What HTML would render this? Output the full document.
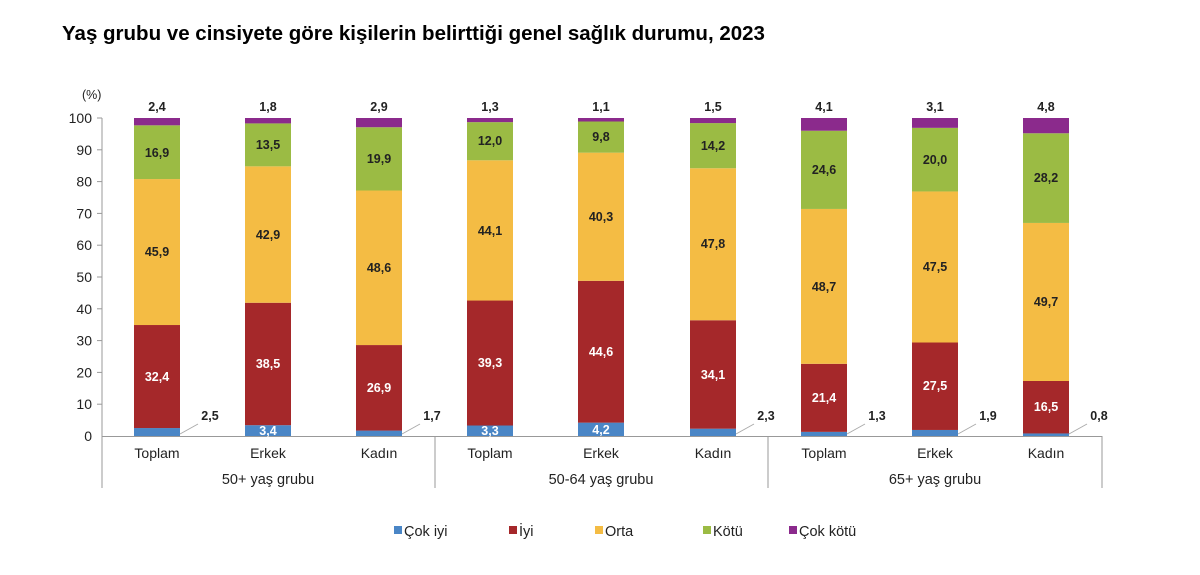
<!DOCTYPE html>
<html><head><meta charset="utf-8"><style>
body{margin:0;background:#fff;}
svg{display:block;font-family:"Liberation Sans",Arial,sans-serif;}
.t{font-size:12.5px;font-weight:bold;fill:#222;text-anchor:middle}
.w{font-size:12.5px;font-weight:bold;fill:#fff;text-anchor:middle}
.y{font-size:14px;fill:#222;text-anchor:end}
.c{font-size:14px;fill:#222;text-anchor:middle}
.g{font-size:14.5px;fill:#222;text-anchor:middle}
.l{font-size:14.5px;fill:#222}
</style></head><body>
<svg width="1200" height="575" viewBox="0 0 1200 575">
<text x="62" y="40" style="font-size:20.5px;font-weight:bold;fill:#000">Yaş grubu ve cinsiyete göre kişilerin belirttiği genel sağlık durumu, 2023</text>
<text x="82" y="99" style="font-size:12.5px;fill:#222">(%)</text>
<g stroke="#999" stroke-width="1">
<line x1="102" y1="118" x2="102" y2="488"/>
<line x1="102" y1="436.5" x2="1102" y2="436.5"/>
<line x1="435" y1="436" x2="435" y2="488"/>
<line x1="768" y1="436" x2="768" y2="488"/>
<line x1="1102" y1="436" x2="1102" y2="488"/>
<line x1="97" y1="118" x2="102" y2="118"/><line x1="97" y1="149.8" x2="102" y2="149.8"/><line x1="97" y1="181.6" x2="102" y2="181.6"/><line x1="97" y1="213.4" x2="102" y2="213.4"/><line x1="97" y1="245.2" x2="102" y2="245.2"/><line x1="97" y1="277" x2="102" y2="277"/><line x1="97" y1="308.8" x2="102" y2="308.8"/><line x1="97" y1="340.6" x2="102" y2="340.6"/><line x1="97" y1="372.4" x2="102" y2="372.4"/><line x1="97" y1="404.2" x2="102" y2="404.2"/>
</g>
<g>
<text x="92" y="123" class="y">100</text><text x="92" y="154.8" class="y">90</text><text x="92" y="186.6" class="y">80</text><text x="92" y="218.4" class="y">70</text><text x="92" y="250.2" class="y">60</text><text x="92" y="282" class="y">50</text><text x="92" y="313.8" class="y">40</text><text x="92" y="345.6" class="y">30</text><text x="92" y="377.4" class="y">20</text><text x="92" y="409.2" class="y">10</text><text x="92" y="441" class="y">0</text>
</g>
<g transform="translate(0,436) scale(1,-3.18)">
<rect x="134" y="0" width="46" height="2.5" fill="#4a86c6"/><rect x="134" y="2.5" width="46" height="32.4" fill="#a5282a"/><rect x="134" y="34.9" width="46" height="45.9" fill="#f4bc44"/><rect x="134" y="80.8" width="46" height="16.9" fill="#9bbb44"/><rect x="134" y="97.7" width="46" height="2.3" fill="#8b2a8c"/>
<rect x="245" y="0" width="46" height="3.4" fill="#4a86c6"/><rect x="245" y="3.4" width="46" height="38.5" fill="#a5282a"/><rect x="245" y="41.9" width="46" height="42.9" fill="#f4bc44"/><rect x="245" y="84.8" width="46" height="13.5" fill="#9bbb44"/><rect x="245" y="98.3" width="46" height="1.7" fill="#8b2a8c"/>
<rect x="356" y="0" width="46" height="1.7" fill="#4a86c6"/><rect x="356" y="1.7" width="46" height="26.9" fill="#a5282a"/><rect x="356" y="28.6" width="46" height="48.6" fill="#f4bc44"/><rect x="356" y="77.2" width="46" height="19.9" fill="#9bbb44"/><rect x="356" y="97.1" width="46" height="2.9" fill="#8b2a8c"/>
<rect x="467" y="0" width="46" height="3.3" fill="#4a86c6"/><rect x="467" y="3.3" width="46" height="39.3" fill="#a5282a"/><rect x="467" y="42.6" width="46" height="44.1" fill="#f4bc44"/><rect x="467" y="86.7" width="46" height="12" fill="#9bbb44"/><rect x="467" y="98.7" width="46" height="1.3" fill="#8b2a8c"/>
<rect x="578" y="0" width="46" height="4.2" fill="#4a86c6"/><rect x="578" y="4.2" width="46" height="44.6" fill="#a5282a"/><rect x="578" y="48.8" width="46" height="40.3" fill="#f4bc44"/><rect x="578" y="89.1" width="46" height="9.8" fill="#9bbb44"/><rect x="578" y="98.9" width="46" height="1.1" fill="#8b2a8c"/>
<rect x="690" y="0" width="46" height="2.3" fill="#4a86c6"/><rect x="690" y="2.3" width="46" height="34.1" fill="#a5282a"/><rect x="690" y="36.4" width="46" height="47.8" fill="#f4bc44"/><rect x="690" y="84.2" width="46" height="14.2" fill="#9bbb44"/><rect x="690" y="98.4" width="46" height="1.6" fill="#8b2a8c"/>
<rect x="801" y="0" width="46" height="1.3" fill="#4a86c6"/><rect x="801" y="1.3" width="46" height="21.4" fill="#a5282a"/><rect x="801" y="22.7" width="46" height="48.7" fill="#f4bc44"/><rect x="801" y="71.4" width="46" height="24.6" fill="#9bbb44"/><rect x="801" y="96" width="46" height="4" fill="#8b2a8c"/>
<rect x="912" y="0" width="46" height="1.9" fill="#4a86c6"/><rect x="912" y="1.9" width="46" height="27.5" fill="#a5282a"/><rect x="912" y="29.4" width="46" height="47.5" fill="#f4bc44"/><rect x="912" y="76.9" width="46" height="20" fill="#9bbb44"/><rect x="912" y="96.9" width="46" height="3.1" fill="#8b2a8c"/>
<rect x="1023" y="0" width="46" height="0.8" fill="#4a86c6"/><rect x="1023" y="0.8" width="46" height="16.5" fill="#a5282a"/><rect x="1023" y="17.3" width="46" height="49.7" fill="#f4bc44"/><rect x="1023" y="67" width="46" height="28.2" fill="#9bbb44"/><rect x="1023" y="95.2" width="46" height="4.8" fill="#8b2a8c"/>
</g>
<g stroke="#aaa" stroke-width="1">
<line x1="180" y1="434" x2="198" y2="424"/><line x1="402" y1="434" x2="420" y2="424"/><line x1="736" y1="434" x2="754" y2="424"/><line x1="847" y1="434" x2="865" y2="424"/><line x1="958" y1="434" x2="976" y2="424"/><line x1="1069" y1="434" x2="1087" y2="424"/>
</g>
<text class="t" x="210" y="420">2,5</text><text class="t" x="432" y="420">1,7</text><text class="t" x="766" y="420">2,3</text><text class="t" x="877" y="420">1,3</text><text class="t" x="988" y="420">1,9</text><text class="t" x="1099" y="420">0,8</text>
<text class="w" x="268" y="435">3,4</text><text class="w" x="490" y="435">3,3</text><text class="w" x="601" y="434">4,2</text>
<text class="w" x="157" y="381">32,4</text><text class="w" x="268" y="368">38,5</text><text class="w" x="379" y="392">26,9</text><text class="w" x="490" y="367">39,3</text><text class="w" x="601" y="356">44,6</text><text class="w" x="713" y="379">34,1</text><text class="w" x="824" y="402">21,4</text><text class="w" x="935" y="390">27,5</text><text class="w" x="1046" y="411">16,5</text>
<text class="t" x="157" y="256">45,9</text><text class="t" x="268" y="239">42,9</text><text class="t" x="379" y="272">48,6</text><text class="t" x="490" y="235">44,1</text><text class="t" x="601" y="221">40,3</text><text class="t" x="713" y="248">47,8</text><text class="t" x="824" y="291">48,7</text><text class="t" x="935" y="271">47,5</text><text class="t" x="1046" y="306">49,7</text>
<text class="t" x="157" y="157">16,9</text><text class="t" x="268" y="149">13,5</text><text class="t" x="379" y="163">19,9</text><text class="t" x="490" y="145">12,0</text><text class="t" x="601" y="141">9,8</text><text class="t" x="713" y="150">14,2</text><text class="t" x="824" y="174">24,6</text><text class="t" x="935" y="164">20,0</text><text class="t" x="1046" y="182">28,2</text>
<text class="t" x="157" y="111">2,4</text><text class="t" x="268" y="111">1,8</text><text class="t" x="379" y="111">2,9</text><text class="t" x="490" y="111">1,3</text><text class="t" x="601" y="111">1,1</text><text class="t" x="713" y="111">1,5</text><text class="t" x="824" y="111">4,1</text><text class="t" x="935" y="111">3,1</text><text class="t" x="1046" y="111">4,8</text>
<text class="c" x="157" y="458">Toplam</text><text class="c" x="268" y="458">Erkek</text><text class="c" x="379" y="458">Kadın</text><text class="c" x="490" y="458">Toplam</text><text class="c" x="601" y="458">Erkek</text><text class="c" x="713" y="458">Kadın</text><text class="c" x="824" y="458">Toplam</text><text class="c" x="935" y="458">Erkek</text><text class="c" x="1046" y="458">Kadın</text>
<text class="g" x="268" y="484">50+ yaş grubu</text><text class="g" x="601" y="484">50-64 yaş grubu</text><text class="g" x="935" y="484">65+ yaş grubu</text>
<rect x="394" y="526" width="8" height="8" fill="#4a86c6"/><text class="l" x="404" y="536">Çok iyi</text>
<rect x="509" y="526" width="8" height="8" fill="#a5282a"/><text class="l" x="519" y="536">İyi</text>
<rect x="595" y="526" width="8" height="8" fill="#f4bc44"/><text class="l" x="605" y="536">Orta</text>
<rect x="703" y="526" width="8" height="8" fill="#9bbb44"/><text class="l" x="713" y="536">Kötü</text>
<rect x="789" y="526" width="8" height="8" fill="#8b2a8c"/><text class="l" x="799" y="536">Çok kötü</text>
</svg>
</body></html>
